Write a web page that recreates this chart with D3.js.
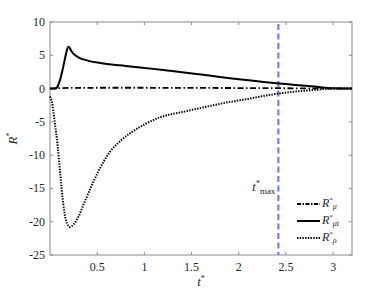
<!DOCTYPE html>
<html><head><meta charset="utf-8">
<script src="https://cdn.jsdelivr.net/npm/d3@7"></script>
<style>body{margin:0;background:#fff}svg{display:block}svg text{font-family:"Liberation Serif","DejaVu Serif",serif}</style>
</head><body>
<svg id="c" width="389" height="292"></svg>
<script>
const xTicks=[0.5,1,1.5,2,2.5,3];
const yTicks=[10,5,0,-5,-10,-15,-20,-25];
const tMax=2.42;
const tMu=[0,0.2,0.5,1,1.5,2,2.5,3,3.2];
const rMu=[0,0.1,0.12,0.12,0.1,0.08,0.05,0.01,0];
const tMut=[0,0.05,0.07,0.1,0.13,0.16,0.19,0.2,0.22,0.25,0.3,0.4,0.5,0.6,0.8,1.0,1.2,1.4,1.6,1.8,2.0,2.2,2.4,2.6,2.8,3.0,3.2];
const rMut=[0,0,0.1,1.0,2.6,4.6,6.2,6.3,5.8,5.2,4.7,4.2,3.9,3.7,3.4,3.1,2.8,2.45,2.1,1.75,1.4,1.1,0.8,0.55,0.3,0.05,0];
const tRho=[0,0.02,0.05,0.08,0.11,0.14,0.17,0.21,0.25,0.30,0.35,0.41,0.51,0.62,0.76,0.88,1.0,1.17,1.41,1.6,1.87,2.1,2.42,2.6,2.8,3.0,3.2];
const rRho=[-1.2,-2,-5,-8.5,-13,-17.3,-19.8,-20.8,-20.4,-19.3,-17.6,-15.6,-12.5,-9.8,-7.7,-6.4,-5.4,-4.3,-3.5,-2.9,-2.1,-1.55,-0.75,-0.45,-0.2,0,0];

const svg=d3.select("#c");
const L=50,T=22,R=352,B=255;
const x=d3.scaleLinear().domain([0,3.2]).range([L,R]);
const y=d3.scaleLinear().domain([-25,10]).range([B,T]);
const tc="#262626", fc="#8a8a8a";

svg.append("rect").attr("x",L).attr("y",T).attr("width",R-L).attr("height",B-T).attr("fill","none").attr("stroke",fc).attr("stroke-width",1);
const tk=3;
xTicks.forEach(v=>{
  svg.append("line").attr("x1",x(v)).attr("x2",x(v)).attr("y1",B).attr("y2",B-tk).attr("stroke",fc);
  svg.append("line").attr("x1",x(v)).attr("x2",x(v)).attr("y1",T).attr("y2",T+tk).attr("stroke",fc);
  svg.append("text").attr("x",x(v)).attr("y",B+16).attr("text-anchor","middle").attr("font-size",12).attr("fill",tc).text(v);
});
yTicks.forEach(v=>{
  svg.append("line").attr("x1",L).attr("x2",L+tk).attr("y1",y(v)).attr("y2",y(v)).attr("stroke",fc);
  svg.append("line").attr("x1",R).attr("x2",R-tk).attr("y1",y(v)).attr("y2",y(v)).attr("stroke",fc);
  svg.append("text").attr("x",L-5).attr("y",y(v)+4).attr("text-anchor","end").attr("font-size",12).attr("fill",tc).text(v);
});

const xl=svg.append("text").attr("x",x(1.6)).attr("y",286).attr("text-anchor","middle").attr("font-size",13).attr("fill",tc);
xl.append("tspan").attr("font-style","italic").text("t");
xl.append("tspan").attr("font-size",8).attr("dy",-5).text("*");
const yl=svg.append("text").attr("transform",`translate(17,${y(-7.5)}) rotate(-90)`).attr("text-anchor","middle").attr("font-size",13).attr("fill",tc);
yl.append("tspan").attr("font-style","italic").text("R");
yl.append("tspan").attr("font-size",8).attr("dy",-5).text("*");

svg.append("line").attr("x1",x(tMax)).attr("x2",x(tMax)).attr("y1",T+2).attr("y2",B).attr("stroke","#6f6fff").attr("stroke-width",2).attr("stroke-dasharray","6,3.5");
const tl=svg.append("text").attr("x",x(tMax)-3).attr("y",y(-15)+3).attr("text-anchor","end").attr("font-size",13).attr("fill",tc);
tl.append("tspan").attr("font-style","italic").text("t");
tl.append("tspan").attr("font-size",8).attr("dy",-5).text("*");
tl.append("tspan").attr("font-size",9).attr("dy",8).text("max");

const line=(ts,vs)=>d3.line().x((d,i)=>x(ts[i])).y(d=>y(d)).curve(d3.curveMonotoneX)(vs);
svg.append("path").attr("d",line(tRho,rRho)).attr("fill","none").attr("stroke","#000").attr("stroke-width",2).attr("stroke-dasharray","1.4,1.3");
svg.append("path").attr("d",line(tMut,rMut)).attr("fill","none").attr("stroke","#000").attr("stroke-width",2);
svg.append("path").attr("d",line(tMu,rMu)).attr("fill","none").attr("stroke","#000").attr("stroke-width",1.8).attr("stroke-dasharray","6,2.5,1.5,2.5");

const leg=[{s:"μ",dash:"4,1.5,1.5,1.5",w:1.8},{s:"μt",dash:null,w:2},{s:"ρ",dash:"1.4,1.3",w:2}];
leg.forEach((l,i)=>{
  const yy=204+i*17;
  const ln=svg.append("line").attr("x1",297).attr("x2",320).attr("y1",yy).attr("y2",yy).attr("stroke","#000").attr("stroke-width",l.w);
  if(l.dash) ln.attr("stroke-dasharray",l.dash);
  const t=svg.append("text").attr("x",322).attr("y",yy+3).attr("font-size",12).attr("fill",tc);
  t.append("tspan").attr("font-style","italic").text("R");
  t.append("tspan").attr("font-size",7).attr("dy",-5).text("*");
  t.append("tspan").attr("font-size",8).attr("font-style","italic").attr("dy",7).text(l.s);
});
</script>
</body></html>
